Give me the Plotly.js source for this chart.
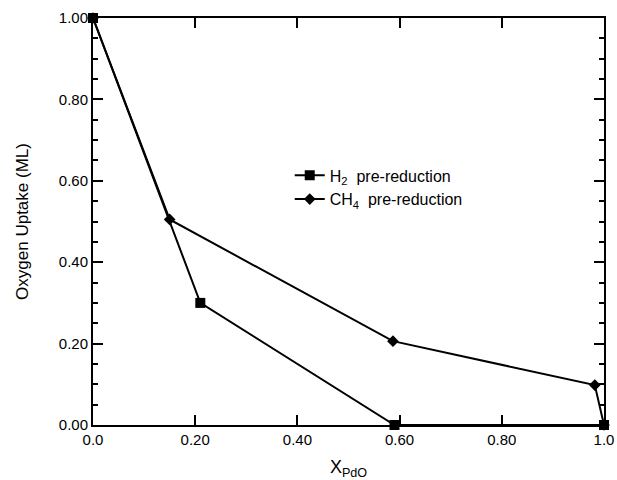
<!DOCTYPE html>
<html>
<head>
<meta charset="utf-8">
<script src="https://cdn.plot.ly/plotly-3.0.1.min.js"></script>
<style>html,body{margin:0;padding:0;background:#fff;}#chart{width:617px;height:480px;}</style>
</head>
<body>
<div id="chart"></div>
<script>
const h2X = [0.0, 0.21, 0.59, 1.0];
const h2Y = [1.0, 0.30, 0.0, 0.0];
const ch4X = [0.0, 0.15, 0.587, 0.982, 1.0];
const ch4Y = [1.0, 0.505, 0.206, 0.098, 0.0];
const xTickVals = [0, 0.2, 0.4, 0.6, 0.8, 1.0];
const xTickText = ["0.0", "0.20", "0.40", "0.60", "0.80", "1.0"];

const font = "Liberation Sans, Arial, Helvetica, sans-serif";

const traces = [
  {
    x: h2X, y: h2Y, mode: "lines+markers", name: "H<sub>2</sub>  pre-reduction",
    line: {color: "#000", width: 2},
    marker: {symbol: "square", size: 10, color: "#000"},
    cliponaxis: false
  },
  {
    x: ch4X, y: ch4Y, mode: "lines+markers", name: "CH<sub>4</sub>  pre-reduction",
    line: {color: "#000", width: 2},
    marker: {symbol: "diamond", size: 9, color: "#000"},
    cliponaxis: false
  }
];

const layout = {
  width: 617, height: 480,
  margin: {l: 93, r: 13, t: 18, b: 55},
  paper_bgcolor: "#fff", plot_bgcolor: "rgba(0,0,0,0)",
  font: {family: font, color: "#000"},
  showlegend: true,
  legend: {
    x: 0.385, y: 0.655, xanchor: "left", yanchor: "top",
    bgcolor: "rgba(0,0,0,0)", borderwidth: 0,
    font: {family: font, size: 16, color: "#000"},
    tracegroupgap: 0
  },
  xaxis: {
    range: [0, 1.0], showgrid: false, zeroline: false, showline: true, linecolor: "#000", linewidth: 2,
    mirror: "ticks", ticks: "inside", ticklen: 10, tickwidth: 2, tickcolor: "#000",
    tickmode: "array", tickvals: xTickVals, ticktext: xTickText,
    tickfont: {family: font, size: 15, color: "#000"},
    title: {text: "X<sub>PdO</sub>", font: {family: font, size: 18, color: "#000"}, standoff: 14}
  },
  yaxis: {
    range: [0, 1.0], showgrid: false, zeroline: false, showline: true, linecolor: "#000", linewidth: 2,
    mirror: "ticks", ticks: "inside", ticklen: 10, tickwidth: 2, tickcolor: "#000",
    dtick: 0.2, tick0: 0, tickformat: ".2f",
    minor: {dtick: 0.05, ticks: "inside", ticklen: 5, tickwidth: 1.5, tickcolor: "#000"},
    tickfont: {family: font, size: 15, color: "#000"},
    title: {text: "Oxygen Uptake (ML)", font: {family: font, size: 17, color: "#000"}, standoff: 26}
  }
};

Plotly.newPlot("chart", traces, layout, {displayModeBar: false});
</script>
</body>
</html>
